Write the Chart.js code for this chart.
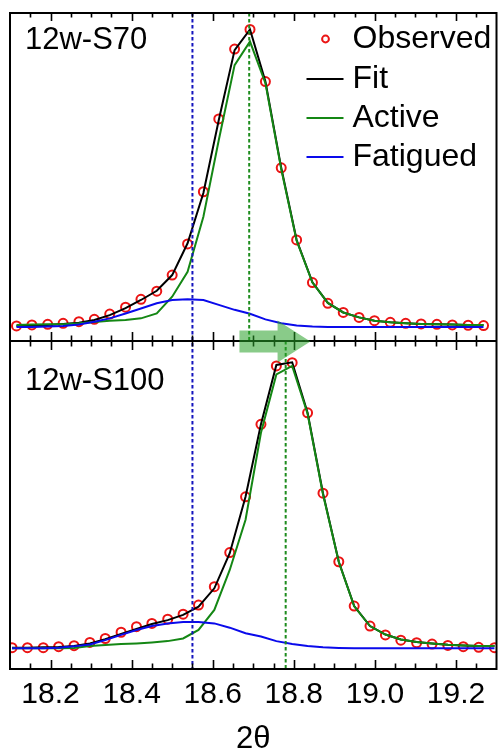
<!DOCTYPE html>
<html>
<head>
<meta charset="utf-8">
<title>12w-S70 / 12w-S100 peak fit</title>
<script src="https://cdn.jsdelivr.net/npm/chart.js@4.4.1/dist/chart.umd.min.js"></script>
<style>
    html, body { margin: 0; padding: 0; background: #fff; }
    #wrap { width: 503px; height: 755px; }
</style>
</head>
<body>
<div id="wrap"><canvas id="peakChart" width="503" height="755"></canvas></div>
<script>
// 2-theta positions of the scan points
const twoThetaTop = [18.116, 18.154, 18.193, 18.231, 18.270, 18.308, 18.346, 18.385, 18.423, 18.462, 18.500,
    18.538, 18.577, 18.615, 18.654, 18.692, 18.730, 18.769, 18.807, 18.846, 18.884, 18.922, 18.961, 18.999,
    19.038, 19.076, 19.114, 19.153, 19.191, 19.230, 19.268];
const twoThetaBottom = [18.105, 18.143, 18.182, 18.220, 18.258, 18.297, 18.335, 18.374, 18.412, 18.450, 18.489,
    18.527, 18.565, 18.604, 18.642, 18.681, 18.719, 18.757, 18.796, 18.834, 18.872, 18.911, 18.949, 18.988,
    19.026, 19.064, 19.103, 19.141, 19.180, 19.218, 19.256, 19.295];

// 12w-S70 intensities (a.u.)
const observedS70 = [4.6, 4.9, 5.1, 5.4, 5.9, 6.6, 8.2, 10.3, 12.7, 15.2, 20.1, 29.6, 45.5, 67.7, 89.0, 95.0,
    79.1, 52.8, 30.8, 17.8, 11.5, 8.7, 7.2, 6.2, 5.7, 5.4, 5.2, 5.1, 4.9, 4.8, 4.7];
const fitS70 = [4.6, 4.7, 4.9, 5.2, 5.6, 6.4, 7.9, 10.0, 12.5, 15.3, 20.1, 29.8, 45.1, 67.4, 88.7, 95.0,
    79.1, 52.8, 30.8, 17.9, 11.6, 8.7, 7.2, 6.2, 5.7, 5.4, 5.2, 5.1, 5.0, 4.9, 4.9];
const activeS70 = [4.9, 5.0, 5.1, 5.1, 5.4, 5.8, 6.2, 6.4, 6.9, 8.4, 13.5, 21.1, 37.9, 61.3, 84.1, 91.3,
    78.6, 52.4, 30.6, 17.8, 11.6, 8.7, 7.2, 6.2, 5.7, 5.4, 5.2, 5.1, 5.0, 4.9, 4.9];
const fatiguedS70 = [4.3, 4.3, 4.4, 4.6, 5.0, 5.9, 6.9, 8.4, 9.9, 11.5, 12.5, 12.7, 12.5, 11.0, 9.5, 8.3,
    6.6, 5.4, 4.7, 4.4, 4.3, 4.3, 4.3, 4.3, 4.3, 4.3, 4.3, 4.3, 4.3, 4.3, 4.3];

// 12w-S100 intensities (a.u.)
const observedS100 = [6.5, 6.5, 6.5, 6.8, 7.1, 8.1, 9.3, 11.2, 12.9, 13.9, 15.2, 16.7, 19.5, 25.1, 35.5, 52.5,
    74.6, 92.4, 93.4, 78.1, 53.6, 32.7, 19.2, 13.1, 10.4, 8.8, 8.0, 7.6, 7.2, 6.8, 6.6, 6.5];
const fitS100 = [6.5, 6.5, 6.6, 6.7, 7.0, 7.8, 9.1, 10.7, 12.2, 13.7, 14.9, 16.5, 19.0, 24.6, 35.3, 52.5,
    74.6, 92.7, 93.5, 78.1, 53.6, 32.7, 19.2, 13.1, 10.5, 9.0, 8.2, 7.8, 7.4, 7.2, 7.0, 7.0];
const activeS100 = [6.3, 6.3, 6.3, 6.3, 6.4, 7.0, 7.3, 7.6, 7.8, 8.1, 8.5, 9.3, 11.9, 18.0, 30.2, 45.5,
    72.0, 89.8, 92.4, 77.8, 53.3, 32.6, 19.1, 13.1, 10.5, 9.0, 8.2, 7.8, 7.4, 7.2, 7.0, 7.0];
const fatiguedS100 = [6.3, 6.3, 6.3, 6.5, 6.9, 7.5, 8.8, 10.4, 11.9, 13.1, 13.9, 14.3, 14.3, 13.9, 12.6, 10.9,
    9.9, 8.5, 7.6, 7.0, 6.6, 6.4, 6.3, 6.3, 6.3, 6.3, 6.3, 6.3, 6.3, 6.3, 6.3, 6.3];

// Axis ticks
const xMajorTicks = [18.2, 18.4, 18.6, 18.8, 19.0, 19.2];
const xMinorTicks = [18.15, 18.25, 18.3, 18.35, 18.45, 18.5, 18.55, 18.65, 18.7, 18.75, 18.85, 18.9, 18.95,
    19.05, 19.1, 19.15, 19.25];

// Peak centres and shift arrow (2-theta)
const fatiguedCentre = 18.55;
const activeCentreS70 = 18.69;
const activeCentreS100 = 18.78;
const shiftArrow = { from: 18.666, headAt: 18.76, to: 18.841 };

const panelLabels = ['12w-S70', '12w-S100'];

const FONT = '"Liberation Sans", Arial, sans-serif';
const RED = 'rgb(235, 20, 20)';
const GREEN = 'rgb(20, 135, 20)';
const BLUE = 'rgb(10, 10, 235)';

const toPoints = (xs, ys) => xs.map((x, i) => ({ x: x, y: ys[i] }));

function lineSet(label, xs, ys, color, axis, order) {
    return {
        label: label,
        data: toPoints(xs, ys),
        yAxisID: axis,
        showLine: true,
        borderColor: color,
        backgroundColor: color,
        borderWidth: 2,
        pointRadius: 0,
        tension: 0,
        order: order
    };
}

function observedSet(xs, ys, axis) {
    return {
        label: 'Observed',
        data: toPoints(xs, ys),
        yAxisID: axis,
        showLine: false,
        pointStyle: 'circle',
        pointRadius: 4.5,
        pointBorderWidth: 2,
        borderColor: RED,
        backgroundColor: 'rgba(0,0,0,0)',
        order: 5
    };
}

// Frame, inward ticks, centre lines, arrow, panel labels and legend
const decorations = {
    id: 'decorations',
    afterDatasetsDraw(chart) {
        const c = chart.ctx;
        const area = chart.chartArea;
        const xScale = chart.scales.x;
        const divider = chart.scales.yTop.bottom;

        c.save();

        // dashed peak centre lines
        c.lineWidth = 2;
        c.setLineDash([3.5, 2.5]);
        const vline = (val, y0, y1, color) => {
            const px = xScale.getPixelForValue(val);
            c.strokeStyle = color;
            c.beginPath();
            c.moveTo(px, y0);
            c.lineTo(px, y1);
            c.stroke();
        };
        vline(fatiguedCentre, area.top, area.bottom, 'rgb(20, 20, 190)');
        vline(activeCentreS70, area.top, divider, 'rgb(30, 140, 30)');
        vline(activeCentreS100, divider, area.bottom, 'rgb(30, 140, 30)');
        c.setLineDash([]);

        // frame and panel divider
        c.strokeStyle = '#000';
        c.lineWidth = 2;
        c.strokeRect(area.left, area.top, area.right - area.left, area.bottom - area.top);
        c.beginPath();
        c.moveTo(area.left, divider);
        c.lineTo(area.right, divider);
        c.stroke();

        // inward tick marks on top, divider and bottom
        const tickPath = (vals, len) => {
            c.beginPath();
            for (let i = 0; i < vals.length; i++) {
                const px = Math.round(xScale.getPixelForValue(vals[i])) + 0.5;
                c.moveTo(px, area.top);
                c.lineTo(px, area.top + len);
                c.moveTo(px, area.bottom);
                c.lineTo(px, area.bottom - len - 1);
                c.moveTo(px, divider - len - 1);
                c.lineTo(px, divider + len + 1);
            }
            c.strokeStyle = '#000';
            c.lineWidth = 1.6;
            c.stroke();
        };
        tickPath(xMajorTicks, 8);
        tickPath(xMinorTicks, 4.5);

        // peak shift arrow across the divider
        const ax0 = xScale.getPixelForValue(shiftArrow.from);
        const axh = xScale.getPixelForValue(shiftArrow.headAt);
        const ax1 = xScale.getPixelForValue(shiftArrow.to);
        const cy = divider + 0.5;
        c.fillStyle = 'rgba(40, 160, 40, 0.55)';
        c.beginPath();
        c.moveTo(ax0, cy - 11);
        c.lineTo(axh, cy - 11);
        c.lineTo(axh, cy - 21);
        c.lineTo(ax1, cy);
        c.lineTo(axh, cy + 21);
        c.lineTo(axh, cy + 11);
        c.lineTo(ax0, cy + 11);
        c.closePath();
        c.fill();

        // panel labels
        c.fillStyle = '#000';
        c.font = '31px ' + FONT;
        c.textBaseline = 'middle';
        c.textAlign = 'left';
        c.fillText(panelLabels[0], area.left + 15, area.top + 27);
        c.fillText(panelLabels[1], area.left + 15, divider + 40);

        // legend
        c.font = '32px ' + FONT;
        const legendX = area.right - 190;
        const rowY = [area.top + 26, area.top + 66, area.top + 105, area.top + 144];
        chart.data.datasets.slice(0, 4).forEach((ds, i) => {
            const y = rowY[i];
            c.strokeStyle = ds.borderColor;
            c.lineWidth = 2;
            c.beginPath();
            if (ds.showLine === false) {
                c.arc(legendX + 19, y, 3.4, 0, Math.PI * 2);
            } else {
                c.moveTo(legendX, y);
                c.lineTo(legendX + 37, y);
            }
            c.stroke();
            c.fillStyle = '#000';
            c.fillText(ds.label, legendX + 46, y);
        });

        c.restore();
    }
};

new Chart(document.getElementById('peakChart'), {
    type: 'scatter',
    data: {
        datasets: [
            observedSet(twoThetaTop, observedS70, 'yTop'),
            lineSet('Fit', twoThetaTop, fitS70, '#000', 'yTop', 4),
            lineSet('Active', twoThetaTop, activeS70, GREEN, 'yTop', 3),
            lineSet('Fatigued', twoThetaTop, fatiguedS70, BLUE, 'yTop', 2),
            observedSet(twoThetaBottom, observedS100, 'yBot'),
            lineSet('Fit', twoThetaBottom, fitS100, '#000', 'yBot', 4),
            lineSet('Active', twoThetaBottom, activeS100, GREEN, 'yBot', 3),
            lineSet('Fatigued', twoThetaBottom, fatiguedS100, BLUE, 'yBot', 2)
        ]
    },
    options: {
        responsive: false,
        animation: false,
        layout: { padding: { left: 10, right: 2.5, top: 13, bottom: 0 } },
        plugins: {
            legend: { display: false },
            tooltip: { enabled: false }
        },
        scales: {
            x: {
                type: 'linear',
                position: 'bottom',
                min: 18.1,
                max: 19.3,
                afterBuildTicks: axis => {
                    axis.ticks = xMajorTicks.map(v => ({ value: v }));
                },
                ticks: {
                    color: '#000',
                    padding: 11,
                    font: { family: FONT, size: 30, lineHeight: 1 },
                    maxRotation: 0,
                    callback: v => Number(v).toFixed(1)
                },
                grid: { display: false, drawTicks: false },
                border: { display: false },
                title: {
                    display: true,
                    text: '2θ',
                    color: '#000',
                    font: { family: FONT, size: 31, lineHeight: 1 },
                    padding: { top: 3, bottom: 0 }
                }
            },
            yBot: {
                type: 'linear',
                position: 'left',
                stack: 'panels',
                stackWeight: 1,
                min: 0,
                max: 100,
                display: false
            },
            yTop: {
                type: 'linear',
                position: 'left',
                stack: 'panels',
                stackWeight: 1,
                min: 0,
                max: 100,
                display: false
            }
        }
    },
    plugins: [decorations]
});
</script>
</body>
</html>
